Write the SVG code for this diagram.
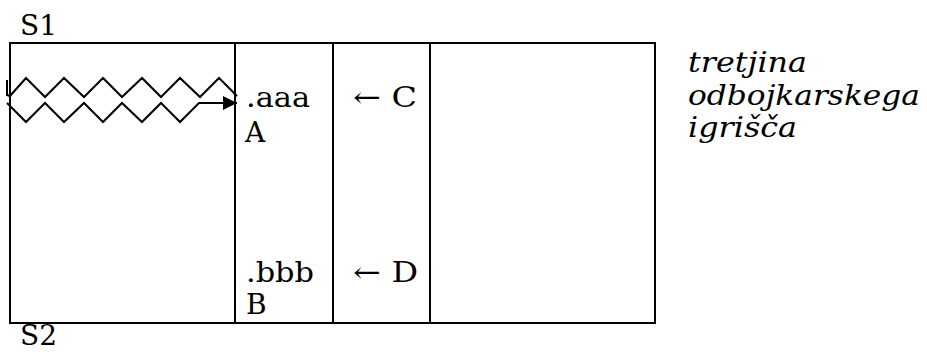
<svg xmlns="http://www.w3.org/2000/svg" width="927" height="352" viewBox="0 0 927 352">
  <style>
    .t { font-family: "DejaVu Serif", "Liberation Serif", serif; font-size: 28px; fill: #000; }
    .i { font-family: "DejaVu Serif", "Liberation Serif", serif; font-size: 27px; font-style: italic; fill: #000; }
    .box { fill: #fff; stroke: #000; stroke-width: 2; }
    .ln { stroke: #000; stroke-width: 2; fill: none; }
    .zz { stroke: #000; stroke-width: 2; fill: none; stroke-linejoin: miter; }
  </style>
  <defs>
    <marker id="ah" viewBox="0 0 10 10" refX="10" refY="5" markerWidth="15" markerHeight="14" markerUnits="userSpaceOnUse" orient="auto">
      <path d="M0,0 L10,5 L0,10 Z" fill="#000"/>
    </marker>
  </defs>
  <rect width="927" height="352" fill="#fff"/>

  <g id="field">
    <rect class="box" x="10" y="43" width="645" height="280"/>
    <line class="ln" x1="235" y1="43" x2="235" y2="323"/>
    <line class="ln" x1="333" y1="43" x2="333" y2="323"/>
    <line class="ln" x1="430" y1="43" x2="430" y2="323"/>
  </g>

  <g id="connectors">
    <path class="zz" d="M7,80 L7,95 L10,96 L26,78 L45,97 L64,78 L84,97 L103,78 L122,97 L142,78 L161,97 L180,78 L200,97 L219,78 L237,96"/>
    <path class="zz" d="M7,103 L26,122 L45,103 L64,122 L84,103 L103,122 L122,103 L142,122 L161,103 L180,122 L199,103 L237,103" marker-end="url(#ah)"/>
  </g>

  <g id="label-s1"><text class="t" x="20" y="35" textLength="37" lengthAdjust="spacingAndGlyphs">S1</text></g>
  <g id="label-s2"><text class="t" x="20" y="345" textLength="37" lengthAdjust="spacingAndGlyphs">S2</text></g>

  <g id="node-a">
    <text class="t" x="246" y="107" textLength="64" lengthAdjust="spacingAndGlyphs">.aaa</text>
    <text class="t" x="245" y="142">A</text>
  </g>
  <g id="node-b">
    <text class="t" x="246" y="282" textLength="68" lengthAdjust="spacingAndGlyphs">.bbb</text>
    <text class="t" x="246" y="314">B</text>
  </g>
  <g id="node-c"><text class="t" x="353" y="107" textLength="64" lengthAdjust="spacingAndGlyphs">← C</text></g>
  <g id="node-d"><text class="t" x="353" y="282" textLength="65" lengthAdjust="spacingAndGlyphs">← D</text></g>

  <g id="caption">
    <text class="i" x="688" y="72" textLength="119" lengthAdjust="spacingAndGlyphs">tretjina</text>
    <text class="i" x="688" y="105" textLength="232" lengthAdjust="spacingAndGlyphs">odbojkarskega</text>
    <text class="i" x="688" y="137" textLength="109" lengthAdjust="spacingAndGlyphs">igrišča</text>
  </g>
</svg>
